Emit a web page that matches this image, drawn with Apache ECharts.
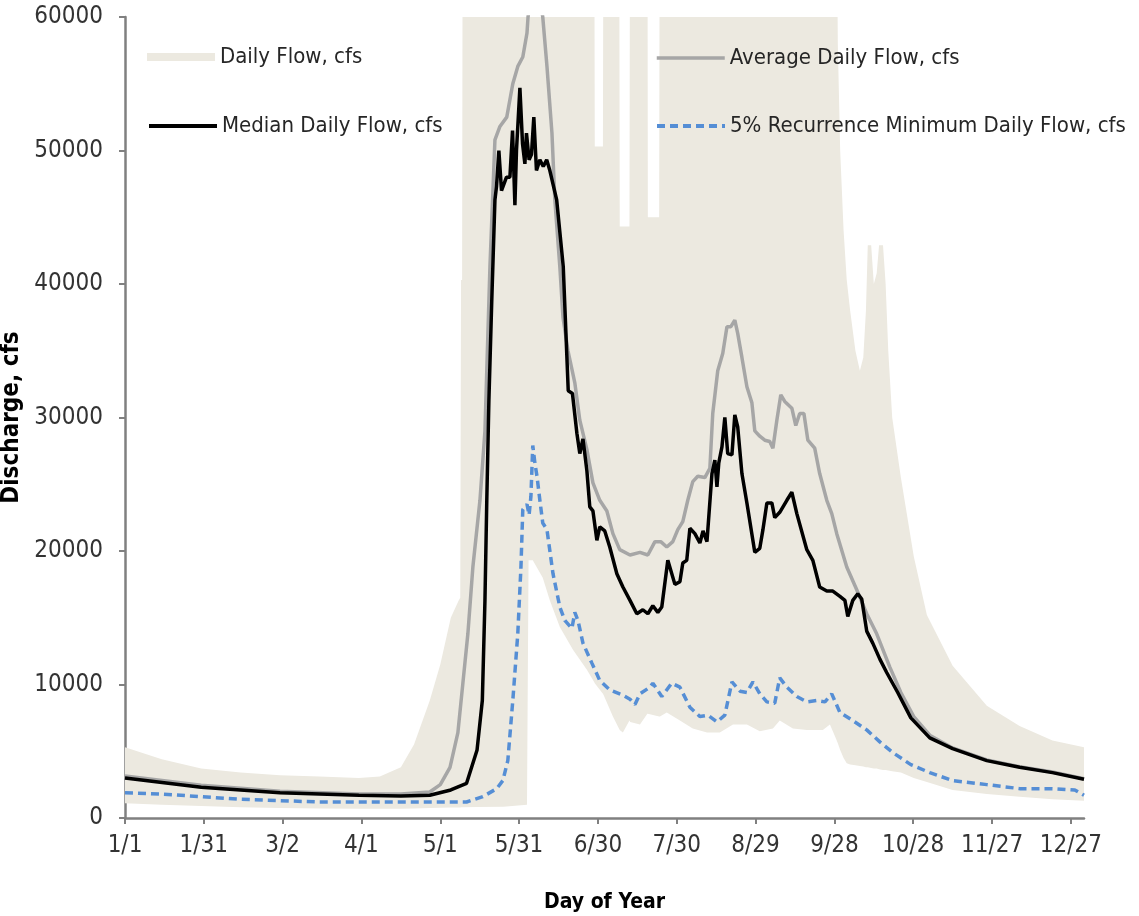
<!DOCTYPE html>
<html>
<head>
<meta charset="utf-8">
<script src="https://cdn.jsdelivr.net/npm/echarts@6/dist/echarts.min.js"></script>
<style>
html,body{margin:0;padding:0;background:#fff;}
#chart{width:1139px;height:916px;}
</style>
</head>
<body>
<div id="chart"></div>
<script>
// ---- Axis ticks ----
const tickDays = [1, 31, 61, 91, 121, 151, 181, 211, 241, 271, 301, 331, 361];
const tickLabels = ['1/1', '1/31', '3/2', '4/1', '5/1', '5/31', '6/30', '7/30', '8/29', '9/28', '10/28', '11/27', '12/27'];

// ---- Daily Flow envelope (min / max of all years) ----
const bandDays = [1, 15, 30, 45, 60, 75, 90, 98, 106, 111, 117, 121, 125, 128, 128.6, 128.9, 129.3, 129.6, 135, 145, 154, 154.6, 156.2, 160, 162.7, 166.5, 171.5, 176.8, 179.5, 179.8, 182.9, 183.2, 186.7, 189, 189.3, 190.5, 193, 193.3, 197, 199.8, 200, 204.3, 204.6, 207.2, 212.2, 217.1, 222.5, 227.4, 232.4, 237.7, 242.6, 247.6, 250.2, 255.2, 260.5, 266.6, 269.3, 271.5, 272.3, 273.2, 274.5, 275.7, 277, 279, 280.7, 282, 283, 283.7, 285, 286, 287.1, 288, 289.5, 290.5, 291.5, 293, 296.3, 301.2, 306.2, 316, 329, 341.5, 354, 366];
const bandLow = [1100, 1000, 900, 800, 750, 720, 700, 700, 700, 720, 750, 760, 780, 790, 790, 800, 800, 800, 820, 850, 1000, 19300, 19300, 18000, 16300, 14300, 12600, 11100, 10200, 10100, 9300, 9200, 7600, 6700, 6600, 6400, 7300, 7200, 7000, 7800, 7800, 7600, 7600, 7900, 7300, 6700, 6400, 6400, 7000, 7000, 6500, 6700, 7300, 6700, 6600, 6600, 7000, 6000, 5600, 5100, 4500, 4100, 4000, 3950, 3900, 3850, 3800, 3800, 3750, 3700, 3700, 3650, 3600, 3600, 3550, 3500, 3400, 3000, 2700, 2100, 1800, 1600, 1400, 1300];
const bandHigh = [5300, 4400, 3700, 3400, 3200, 3100, 3000, 3100, 3800, 5500, 8800, 11500, 15000, 16300, 16500, 40300, 40300, 80000, 80000, 80000, 80000, 80000, 80000, 80000, 80000, 80000, 80000, 80000, 80000, 50300, 50300, 80000, 80000, 80000, 44300, 44300, 44300, 80000, 80000, 80000, 45000, 45000, 80000, 80000, 80000, 80000, 80000, 80000, 80000, 80000, 80000, 80000, 80000, 80000, 80000, 80000, 80000, 80000, 58000, 50000, 44000, 40300, 38000, 35000, 33500, 34500, 38000, 42900, 42900, 40000, 40800, 42900, 42900, 40000, 35000, 30000, 25500, 19600, 15200, 11400, 8400, 6900, 5800, 5300];

// ---- Average Daily Flow ----
const averageDays = [1, 30, 60, 90, 106, 117, 121, 124.7, 127.7, 129.6, 131.5, 133.4, 136.1, 138, 139.9, 141.8, 143.7, 146.3, 148.6, 150.5, 152.4, 154, 154.4, 156.5, 158, 160, 161.6, 163.5, 164.6, 166.5, 167.7, 169.6, 172.2, 174.1, 176.8, 179.1, 181.7, 184.4, 186.7, 189.3, 193.2, 197, 200, 202.7, 204.9, 207.2, 209.5, 211.4, 213.3, 215.2, 217.1, 219, 221.7, 223.6, 224.7, 226.6, 228.5, 230.1, 231.6, 233.1, 234.2, 235.8, 237.7, 239.6, 240.7, 242.6, 244.5, 246.4, 247.6, 249.1, 250.6, 252.1, 254.8, 256.3, 257.8, 259.4, 260.9, 263.5, 265.4, 268.1, 270, 271.9, 275.7, 279.5, 283.3, 287.1, 292.1, 296.3, 301.2, 307.3, 316, 329, 341.5, 354, 366];
const averageFlow = [3150, 2450, 2000, 1800, 1800, 1950, 2500, 3800, 6400, 10100, 13800, 18800, 23800, 29000, 41300, 50800, 51800, 52500, 55000, 56300, 57000, 58800, 60000, 63000, 62500, 60000, 56300, 51300, 46300, 41300, 37500, 35000, 32600, 29800, 27600, 25100, 23800, 23000, 21300, 20100, 19700, 19900, 19700, 20700, 20700, 20300, 20700, 21600, 22200, 23800, 25200, 25600, 25500, 26200, 30300, 33500, 34800, 36800, 36800, 37300, 36300, 34500, 32300, 31100, 29000, 28600, 28300, 28200, 27700, 29800, 31700, 31200, 30700, 29400, 30300, 30300, 28300, 27700, 25800, 23800, 22800, 21300, 18800, 17100, 15300, 13800, 11300, 9400, 7600, 6200, 5250, 4350, 3850, 3450, 2950];

// ---- Median Daily Flow ----
const medianDays = [1, 30, 60, 90, 106, 117, 125, 131, 135, 137, 138, 138.7, 139.5, 140.6, 141.8, 142.4, 143.3, 144.3, 146.2, 147.5, 148.5, 149.4, 150, 151.3, 152.3, 153.2, 153.8, 154.8, 155.7, 156.6, 157.6, 158.9, 160.2, 161.5, 162.7, 165.3, 167.8, 169.7, 171.3, 173, 174.1, 175.3, 176.8, 177.9, 179.1, 180.6, 181.7, 183.6, 185.5, 188.2, 190.5, 193.2, 195.8, 198.1, 200, 201.9, 203.8, 205.3, 207.6, 210.3, 212.2, 213.3, 214.8, 216, 217.9, 219.8, 221, 222.5, 224.4, 225.5, 226.3, 227, 228.2, 229.3, 230.4, 232, 233.1, 234.2, 235.8, 237.7, 240.7, 242.6, 243.8, 245.3, 247.2, 248.3, 250.2, 252.9, 254.8, 256.7, 260.5, 262.8, 265.4, 268.1, 270.4, 273.1, 275, 276.1, 278, 279.9, 281.4, 283.3, 285.6, 288.3, 290.9, 295.1, 300.1, 307.3, 316, 329, 341.5, 354, 366];
const medianFlow = [3000, 2300, 1900, 1700, 1650, 1700, 2100, 2600, 5100, 8800, 16300, 23800, 31300, 38800, 46300, 47300, 50000, 47000, 48000, 48000, 51500, 45900, 50000, 54700, 50500, 49000, 51300, 49300, 49700, 52500, 48500, 49300, 48800, 49300, 48500, 46300, 41300, 32000, 31800, 28800, 27300, 28400, 26000, 23300, 23000, 20800, 21800, 21500, 20300, 18300, 17300, 16300, 15300, 15600, 15300, 15900, 15400, 15800, 19300, 17500, 17700, 19100, 19300, 21700, 21300, 20600, 21500, 20700, 25800, 26800, 24800, 26600, 27800, 30000, 27300, 27200, 30200, 29300, 25800, 23600, 19900, 20200, 21600, 23600, 23600, 22500, 22900, 23800, 24400, 22800, 20100, 19300, 17300, 17000, 17000, 16600, 16300, 15100, 16300, 16800, 16400, 14000, 13100, 11900, 10900, 9400, 7500, 6000, 5200, 4300, 3800, 3400, 2900];

// ---- 5% Recurrence Minimum Daily Flow ----
const minDays = [1, 14, 30, 45, 60, 75, 106, 131, 137.2, 142.5, 144.8, 146.7, 148.6, 150.5, 151.7, 152.4, 154, 154.8, 155.5, 156.2, 157, 157.8, 158.9, 160, 161.6, 163.9, 166.5, 168.4, 171.1, 172.2, 173.4, 175.3, 178.7, 181.7, 185.5, 190.5, 193.2, 195.1, 197, 200.8, 201.9, 205.3, 209.1, 212.2, 216, 219.8, 222.9, 226.3, 229.3, 232, 235.1, 237.7, 240, 242.6, 245.3, 248.3, 250.2, 252.9, 256.7, 260.5, 264.3, 267.4, 270, 273.1, 278, 283.3, 288.3, 293.2, 300.1, 307.3, 316, 329, 341.5, 354, 362.5, 366];
const minFlow = [1900, 1800, 1600, 1400, 1300, 1200, 1200, 1200, 1600, 2200, 2800, 4300, 8800, 13800, 18800, 23100, 23500, 22700, 24100, 27900, 26600, 25600, 23800, 22100, 21600, 18300, 15800, 14800, 14200, 15400, 14800, 13100, 11600, 10300, 9600, 9200, 8900, 8500, 9300, 9800, 10100, 9100, 10100, 9800, 8300, 7600, 7700, 7200, 7700, 10200, 9500, 9400, 10200, 9300, 8700, 8600, 10500, 9800, 9100, 8700, 8800, 8700, 9300, 7900, 7300, 6600, 5700, 4900, 4000, 3400, 2800, 2500, 2200, 2200, 2100, 1700];

// ---- build library data ----
const pairs = (xs, ys) => xs.map((d, i) => [d, ys[i]]);
const bandData = bandDays.map((d, i) => [d, bandLow[i], bandHigh[i]]);

const FONT = "'Liberation Sans Narrow', 'DejaVu Sans Condensed', sans-serif";
const BEIGE = '#ECE9E0';
const GRAY = '#A6A6A6';
const BLUE = '#558ED5';
const AXIS = '#808080';

const labelMap = {};
tickDays.forEach((d, i) => { labelMap[d] = tickLabels[i]; });

function legendBox(name, left, top, extra) {
  return Object.assign({
    data: [name],
    left: left, top: top,
    orient: 'horizontal',
    padding: 0,
    itemWidth: 68,
    itemHeight: 14,
    selectedMode: false,
    textStyle: { fontFamily: FONT, fontSize: 22, color: '#262626', lineHeight: 26 }
  }, extra || {});
}

function renderBand(params, api) {
  if (params.dataIndex !== 0) return null;
  const top = [], bottom = [];
  for (let i = 0; i < bandData.length; i++) {
    top.push(api.coord([bandData[i][0], bandData[i][2]]));
    bottom.push(api.coord([bandData[i][0], bandData[i][1]]));
  }
  const cs = params.coordSys;
  return {
    type: 'polygon',
    shape: { points: top.concat(bottom.reverse()) },
    style: { fill: BEIGE, stroke: null },
    clipPath: { type: 'rect', shape: { x: cs.x, y: cs.y, width: cs.width, height: cs.height } },
    silent: true
  };
}

const chart = echarts.init(document.getElementById('chart'), null, { renderer: 'canvas' });
chart.setOption({
  animation: false,
  backgroundColor: '#ffffff',
  grid: { left: 125, right: 55, top: 17, bottom: 98, containLabel: false, outerBoundsMode: 'none' },
  legend: [
    legendBox('Daily Flow, cfs', 147, 44, { icon: 'rect', itemHeight: 8, itemStyle: { color: BEIGE, borderWidth: 0 } }),
    legendBox('Median Daily Flow, cfs', 147, 113, { lineStyle: { width: 4, color: '#000' }, itemStyle: { opacity: 0, borderWidth: 0 } }),
    legendBox('Average Daily Flow, cfs', 655, 45, { lineStyle: { width: 3.5, color: GRAY }, itemStyle: { opacity: 0, borderWidth: 0 } }),
    legendBox('5% Recurrence Minimum Daily Flow, cfs', 655, 113, { lineStyle: { width: 4, color: BLUE, type: [8, 5] }, itemStyle: { opacity: 0, borderWidth: 0 } })
  ],
  xAxis: {
    type: 'value',
    min: 1,
    max: 366,
    name: 'Day of Year',
    nameLocation: 'middle',
    nameGap: 74,
    nameTextStyle: { fontFamily: FONT, fontSize: 21, fontWeight: 'bold', color: '#000' },
    splitLine: { show: false },
    axisLine: { show: true, onZero: false, lineStyle: { color: AXIS, width: 2.5 } },
    axisTick: { show: true, inside: false, length: 6, customValues: tickDays, lineStyle: { color: AXIS, width: 2 } },
    axisLabel: {
      customValues: tickDays,
      margin: 16,
      fontFamily: FONT, fontSize: 24, color: '#333333',
      formatter: v => (labelMap[v] !== undefined ? labelMap[v] : '')
    }
  },
  yAxis: {
    type: 'value',
    min: 0,
    max: 60000,
    interval: 10000,
    name: 'Discharge, cfs',
    nameLocation: 'middle',
    nameGap: 92,
    nameTextStyle: { fontFamily: FONT, fontSize: 24, fontWeight: 'bold', color: '#000' },
    splitLine: { show: false },
    axisLine: { show: true, lineStyle: { color: AXIS, width: 2.5 } },
    axisTick: { show: true, inside: false, length: 6, lineStyle: { color: AXIS, width: 2 } },
    axisLabel: { margin: 22, fontFamily: FONT, fontSize: 24, color: '#333333', formatter: v => String(v) }
  },
  series: [
    {
      name: 'Daily Flow, cfs',
      type: 'custom',
      coordinateSystem: 'cartesian2d',
      data: bandData,
      encode: { x: 0, y: [1, 2] },
      itemStyle: { color: BEIGE },
      renderItem: renderBand,
      silent: true,
      z: 1
    },
    {
      name: 'Average Daily Flow, cfs',
      type: 'line',
      data: pairs(averageDays, averageFlow),
      symbol: 'none',
      itemStyle: { color: GRAY },
      lineStyle: { color: GRAY, width: 3.5 },
      z: 3
    },
    {
      name: 'Median Daily Flow, cfs',
      type: 'line',
      data: pairs(medianDays, medianFlow),
      symbol: 'none',
      itemStyle: { color: '#000' },
      lineStyle: { color: '#000', width: 3.5 },
      z: 4
    },
    {
      name: '5% Recurrence Minimum Daily Flow, cfs',
      type: 'line',
      data: pairs(minDays, minFlow),
      symbol: 'none',
      itemStyle: { color: BLUE },
      lineStyle: { color: BLUE, width: 3.5, type: [8, 5] },
      z: 5
    }
  ]
});
</script>
</body>
</html>
